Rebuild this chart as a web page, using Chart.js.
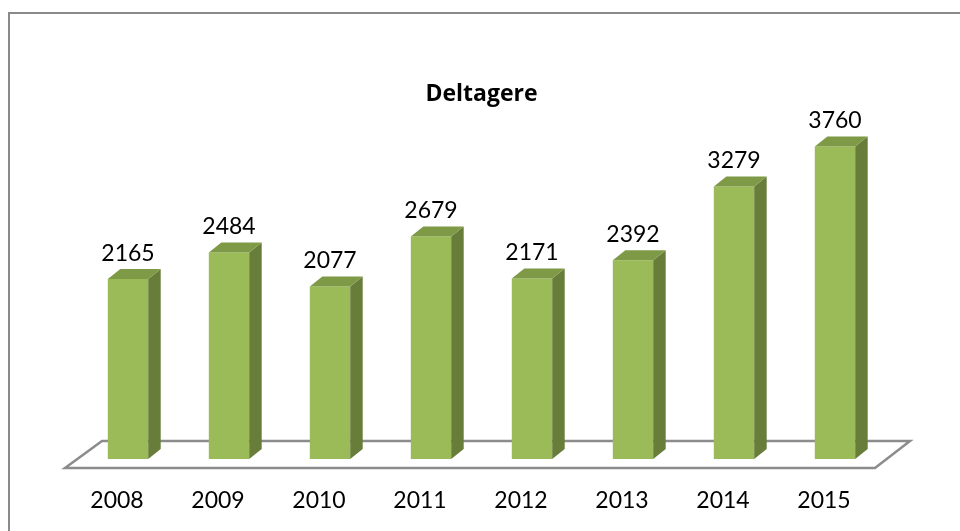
<!DOCTYPE html>
<html>
<head>
<meta charset="utf-8">
<script src="https://cdn.jsdelivr.net/npm/chart.js@4.4.1/dist/chart.umd.min.js"></script>
<style>
  html, body { margin: 0; padding: 0; background: #ffffff; }
  #wrap { position: relative; width: 960px; height: 531px; overflow: hidden; }
  #frame { position: absolute; left: 8px; top: 12px; width: 1000px; height: 600px; border: 2px solid #8a8a8a; box-sizing: border-box; }
  canvas { position: absolute; left: 0; top: 0; }
</style>
</head>
<body>
<div id="wrap">
  <div id="frame"></div>
  <canvas id="c" width="960" height="531"></canvas>
</div>
<script>
const years = ["2008", "2009", "2010", "2011", "2012", "2013", "2014", "2015"];
const deltagere = [2165, 2484, 2077, 2679, 2171, 2392, 3279, 3760];
const chartTitle = "Deltagere";

const FRONT = "#9bbb59";
const SIDE = "#687d39";
const TOP = "#7f9a46";
const DX = 12.5, DY = -10;

const floorPlugin = {
  id: "floor3d",
  beforeDatasetsDraw(chart) {
    const { ctx, chartArea: a } = chart;
    ctx.save();
    ctx.beginPath();
    ctx.moveTo(a.left - 12.5, a.bottom + 9);
    ctx.lineTo(a.right - 10.5, a.bottom + 9);
    ctx.lineTo(a.right + 24.5, a.bottom - 18);
    ctx.lineTo(a.left + 24.5, a.bottom - 18);
    ctx.closePath();
    ctx.fillStyle = "#ffffff";
    ctx.fill();
    ctx.lineWidth = 2.5;
    ctx.strokeStyle = "#8c8c8c";
    ctx.stroke();
    ctx.restore();
  }
};

const bar3dPlugin = {
  id: "bar3d",
  afterDatasetsDraw(chart) {
    const { ctx } = chart;
    const meta = chart.getDatasetMeta(0);
    ctx.save();
    meta.data.forEach((bar, i) => {
      const { x, y, base, width } = bar.getProps(["x", "y", "base", "width"], true);
      const l = x - width / 2, r = x + width / 2;
      ctx.beginPath();
      ctx.moveTo(r, y);
      ctx.lineTo(r + DX, y + DY);
      ctx.lineTo(r + DX, base + DY);
      ctx.lineTo(r, base);
      ctx.closePath();
      ctx.fillStyle = SIDE;
      ctx.fill();
      ctx.beginPath();
      ctx.moveTo(l, y);
      ctx.lineTo(l + DX, y + DY);
      ctx.lineTo(r + DX, y + DY);
      ctx.lineTo(r, y);
      ctx.closePath();
      ctx.fillStyle = TOP;
      ctx.fill();
      ctx.fillStyle = "#000000";
      ctx.font = "23px Lato";
      ctx.textAlign = "center";
      ctx.textBaseline = "middle";
      ctx.fillText(String(deltagere[i]), x, y - 26);
    });
    ctx.restore();
  }
};

new Chart(document.getElementById("c"), {
  type: "bar",
  data: {
    labels: years,
    datasets: [{
      data: deltagere,
      backgroundColor: FRONT,
      borderWidth: 0,
      categoryPercentage: 1,
      barPercentage: 0.4
    }]
  },
  options: {
    responsive: false,
    animation: false,
    devicePixelRatio: 1,
    layout: { padding: { left: 77.5, right: 74.5, top: 0, bottom: 0 } },
    plugins: {
      legend: { display: false },
      tooltip: { enabled: false },
      title: {
        display: true,
        text: chartTitle,
        color: "#000000",
        font: { family: "Open Sans", size: 23, weight: "bold" },
        padding: { top: 81, bottom: 18 }
      }
    },
    scales: {
      x: {
        grid: { display: false, drawTicks: false },
        border: { display: false },
        afterFit(scale) { scale.height = 72; },
        ticks: {
          color: "#000000",
          font: { family: "Lato", size: 23 },
          padding: 28,
          labelOffset: -11
        }
      },
      y: {
        display: false,
        min: 0,
        max: 4000
      }
    }
  },
  plugins: [floorPlugin, bar3dPlugin]
});
</script>
</body>
</html>
